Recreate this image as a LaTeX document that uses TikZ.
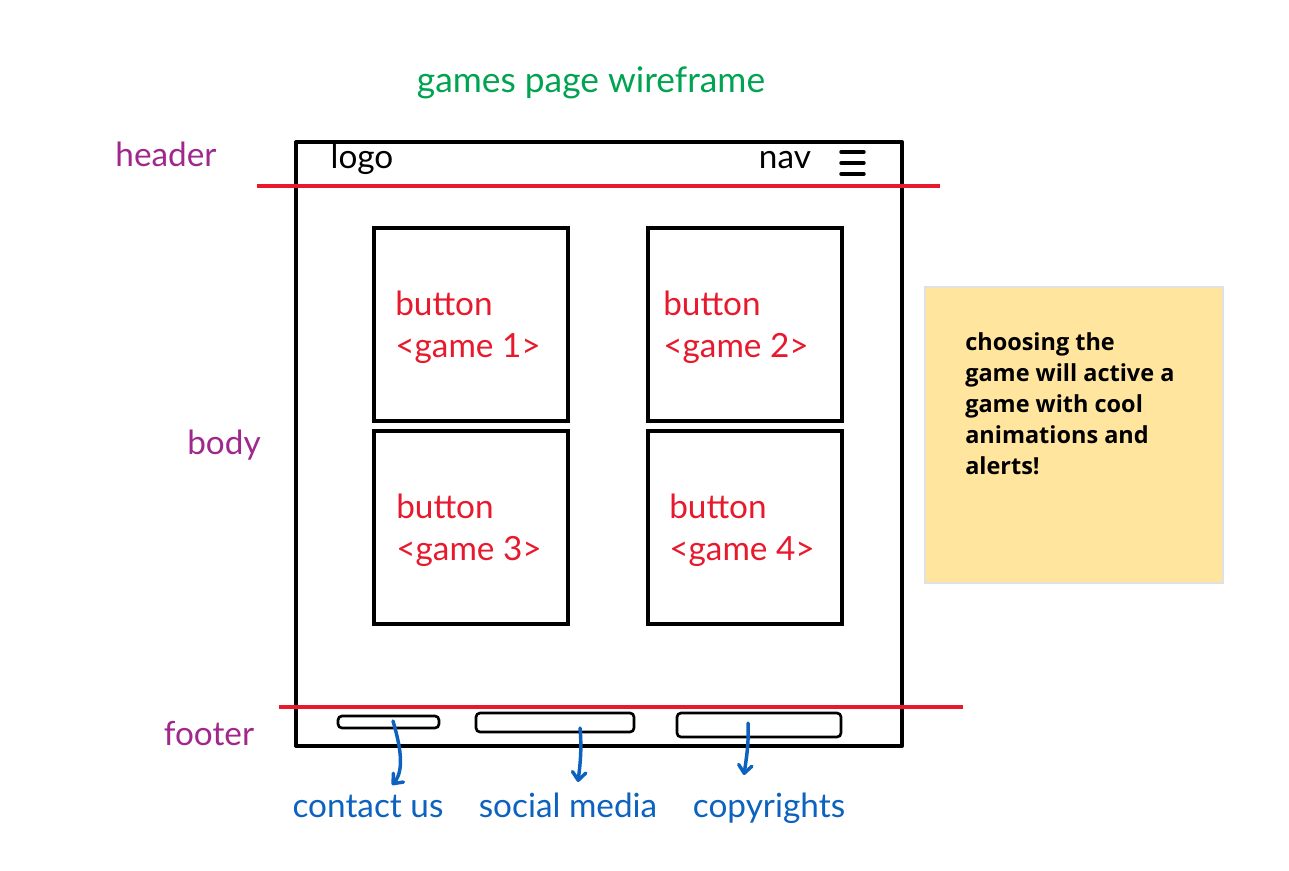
\documentclass[tikz,border=0pt]{standalone}
\usepackage{fontspec}
\setmainfont{Lato}
\newfontfamily\notefont{Open Sans}
\usetikzlibrary{arrows.meta}
\definecolor{titlegreen}{RGB}{0,163,80}
\definecolor{lblpurple}{RGB}{160,40,140}
\definecolor{linered}{RGB}{232,25,44}
\definecolor{lblblue}{RGB}{12,98,190}
\definecolor{notefill}{RGB}{255,229,158}
\definecolor{noteedge}{RGB}{225,225,225}
\tikzset{
  frame/.style={draw=black, line width=3pt, rectangle, inner sep=0pt, line join=round},
  gamebox/.style={draw=black, line width=3pt, rectangle, inner sep=0pt, minimum width=145.5pt, minimum height=144.75pt},
  redline/.style={draw=linered, line width=2.4pt},
  hand/.style={font=\fontsize{25}{28}\selectfont, inner sep=0pt},
  sectlbl/.style={hand, text=lblpurple, anchor=base},
  btntext/.style={hand, text=linered, anchor=base west},
  foottext/.style={hand, text=lblblue, anchor=base},
  footbox/.style={draw=black, line width=2pt, rounded corners=3pt, rectangle, inner sep=0pt},
  footarrow/.style={draw=lblblue, line width=2.6pt, line cap=round, -{Straight Barb[length=6pt,width=10pt,round]}},
  note/.style={fill=notefill, draw=noteedge, line width=0.8pt, rectangle, inner sep=0pt, minimum width=223.5pt, minimum height=222pt}
}
\begin{document}
\begin{tikzpicture}[x=0.75pt,y=-0.75pt]
\useasboundingbox (0,0) rectangle (1289,871);
% title
\node[hand, text=titlegreen, anchor=base, font=\fontsize{26.5}{30}\selectfont] (title) at (591,92) {games page wireframe};
% main frame
\node[frame, minimum width=454.5pt, minimum height=453pt] (frame) at (599,444) {};
% header
\node[sectlbl] (hdr) at (166,166) {header};
\node[hand, anchor=base] (logo) at (362,168) {logo};
\node[hand, anchor=base] (nav) at (785,168) {nav};
\coordinate (hbL1) at (841,152); \coordinate (hbR1) at (864,152);
\coordinate (hbL2) at (841,163); \coordinate (hbR2) at (864,163);
\coordinate (hbL3) at (841,174); \coordinate (hbR3) at (864,174);
\draw[line width=2.6pt, line cap=round] (hbL1) -- (hbR1) (hbL2) -- (hbR2) (hbL3) -- (hbR3);
\coordinate (hlA) at (257,186); \coordinate (hlB) at (940,186);
\draw[redline] (hlA) -- (hlB);
% body
\node[sectlbl] (bodylbl) at (224,454) {body};
\node[gamebox] (g1) at (471,324.5) {};
\node[gamebox] (g2) at (744.5,324.5) {};
\node[gamebox] (g3) at (471,527.5) {};
\node[gamebox] (g4) at (744.5,527.5) {};
\node[btntext] (b1) at (395,315) {button};
\node[btntext] (t1) at (395,357) {<game 1>};
\node[btntext] (b2) at (663,315) {button};
\node[btntext] (t2) at (663,357) {<game 2>};
\node[btntext] (b3) at (396,518) {button};
\node[btntext] (t3) at (396,560) {<game 3>};
\node[btntext] (b4) at (669,518) {button};
\node[btntext] (t4) at (669,560) {<game 4>};
% footer
\coordinate (flA) at (279,707); \coordinate (flB) at (963,707);
\draw[redline] (flA) -- (flB);
\node[sectlbl] (ftr) at (209,745) {footer};
\node[footbox, minimum width=75.75pt, minimum height=9pt] (f1) at (388.5,722) {};
\node[footbox, minimum width=118.5pt, minimum height=14.25pt] (f2) at (555,722.5) {};
\node[footbox, minimum width=123pt, minimum height=18pt] (f3) at (759,725) {};
\node[foottext] (l1) at (368,817) {contact us};
\node[foottext] (l2) at (568,817) {social media};
\node[foottext] (l3) at (769,817) {copyrights};
\coordinate (s1) at (393,721);
\coordinate (s2) at (580,728);
\coordinate (s3) at (748,723);
\coordinate (e1) at (392,785);
\coordinate (e2) at (578,782);
\coordinate (e3) at (744,775);
\draw[footarrow] (s1) .. controls (400,745) and (405,770) .. (e1);
\draw[footarrow] (s2) .. controls (582,750) and (580,765) .. (e2);
\draw[footarrow] (s3) .. controls (749,745) and (746,760) .. (e3);
% sticky note
\node[note] (sticky) at (1074,435) {};
\node[anchor=north west, inner sep=0pt, align=left, font=\notefont\bfseries\fontsize{17.6}{23.3}\selectfont] (notetxt) at (965,332) {choosing the\\game will active a\\game with cool\\animations and\\alerts!};
\end{tikzpicture}
\end{document}
